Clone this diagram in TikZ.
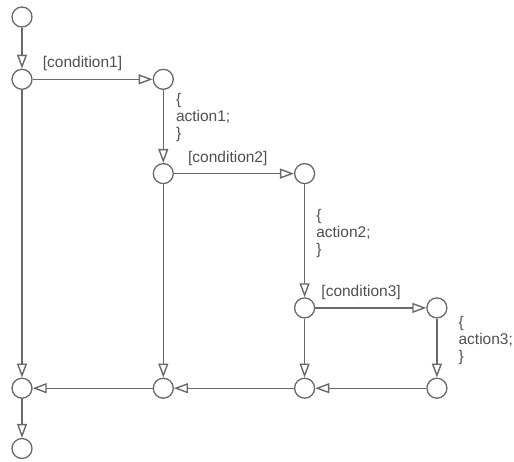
\documentclass[tikz,border=0pt]{standalone}
\usepackage{fontspec}
\setmainfont{Liberation Sans}
\usetikzlibrary{arrows.meta,positioning}
\definecolor{linegray}{RGB}{105,105,105}
\definecolor{textgray}{RGB}{80,80,80}
\tikzset{
  state/.style={circle,draw=linegray,line width=1.3pt,minimum size=20pt,inner sep=0pt,fill=white},
  guard/.style={text=textgray,font=\fontsize{15.5}{17}\selectfont,inner sep=1pt},
  act/.style={guard,align=left},
  arrow/.style={draw=linegray,line width=1.4pt,-{Triangle[open,length=14pt,width=10pt]}}
}
\begin{document}
\begin{tikzpicture}
\useasboundingbox (0,0) rectangle (514pt,-461pt);
\node[state] (s) at (22pt,-17pt) {};
\node[state,below=41pt of s] (j1) {};
\node[state,right=120pt of j1] (t1) {};
\node[state,below=73pt of t1] (j2) {};
\node[state,right=120pt of j2] (t2) {};
\node[state,below=113pt of t2] (j3) {};
\node[state,right=111pt of j3] (t3) {};
\node[state,below=59pt of j3] (m2) {};
\node[state] (m3) at (t3|-m2) {};
\node[state] (m1) at (j2|-m2) {};
\node[state] (m0) at (j1|-m2) {};
\node[state,below=39pt of m0] (e) {};
\node[guard,above right=7pt and 9pt of j1.east] (c1) {[condition1]};
\node[guard,above right=7pt and 13pt of j2.east] (c2) {[condition2]};
\node[guard,above right=7pt and 5pt of j3.east] (c3) {[condition3]};
\foreach \a/\b in {s/j1,j1/t1,j2/t2,j3/t3,j3/m2,m3/m2,j2/m1,m2/m1,j1/m0,m1/m0,m0/e}
  \draw[arrow] (\a) -- (\b);
\draw[arrow] (t1) -- node[act,right=11pt,pos=.38] (a1) {\{\\action1;\\\}} (j2);
\draw[arrow] (t2) -- node[act,right=10pt,pos=.44] (a2) {\{\\action2;\\\}} (j3);
\draw[arrow] (t3) -- node[act,right=20pt,pos=.38] (a3) {\{\\action3;\\\}} (m3);
\end{tikzpicture}
\end{document}
